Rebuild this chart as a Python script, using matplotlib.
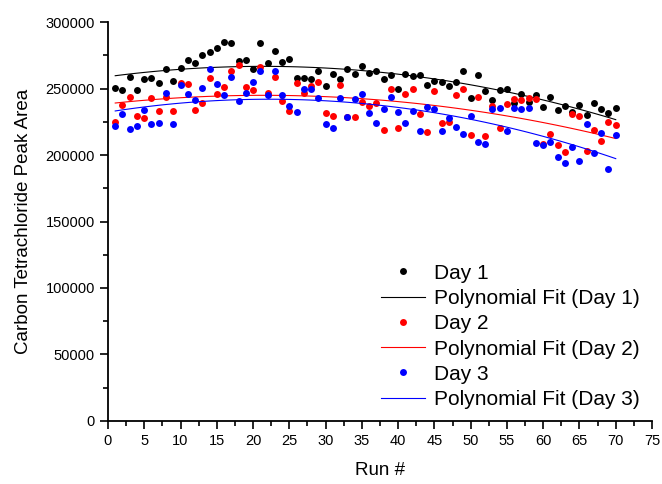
import numpy as np
import matplotlib
matplotlib.use("Agg")
from matplotlib import pyplot as plt
from matplotlib.ticker import MultipleLocator
from matplotlib.legend_handler import HandlerLine2D

plt.rcParams['font.family'] = ['Liberation Sans', 'DejaVu Sans']

runs = np.arange(1, 71)

#--------------data--------------------------------------
day1 = [250600, 249000, 259000, 249000, 257400, 258000, 254400, 264500, 256000, 265700,
        271700, 269200, 275200, 277500, 280300, 285200, 284500, 271000, 271200, 264500,
        284300, 269200, 278500, 269700, 272000, 258000, 258000, 257000, 263000, 252100,
        261000, 257400, 264500, 261000, 266700, 262000, 263200, 257000, 260000, 249500,
        261000, 259700, 260400, 252700, 256000, 254700, 252000, 255000, 263200, 242700,
        260200, 247900, 241400, 249100, 249700, 238900, 245700, 240100, 245200, 236400,
        243700, 234100, 236900, 232400, 237600, 229900, 238900, 234900, 231900, 235200]

day2 = [224600, 237400, 243600, 229400, 227600, 243100, 232900, 243600, 233400, 253900,
        253400, 233900, 239400, 257700, 246100, 251400, 263200, 267700, 251200, 248700,
        266200, 246400, 258900, 240400, 233100, 253900, 246700, 252100, 255200, 231600,
        229400, 252400, 228400, 228600, 239700, 236700, 239400, 218800, 249900, 220600,
        246100, 249700, 231100, 217300, 247900, 224300, 224800, 245200, 249400, 215300,
        243900, 214300, 236700, 220100, 238400, 242400, 241200, 242700, 241900, 208500,
        215800, 207600, 202500, 230700, 229100, 203000, 218600, 210600, 225100, 222800]

day3 = [222100, 231100, 219800, 222100, 233600, 223600, 224100, 246700, 223100, 252700,
        245900, 241200, 250400, 264500, 253700, 245400, 258500, 240900, 246400, 254700,
        263000, 245200, 263000, 245400, 237100, 232400, 249900, 249700, 243100, 223300,
        220600, 242700, 228400, 242400, 246100, 231400, 224300, 234600, 243400, 232400,
        223900, 233400, 217900, 235900, 234600, 217900, 227900, 221300, 215800, 229600,
        210000, 208500, 234400, 235100, 217900, 235400, 234900, 235600, 209300, 207800,
        209800, 198300, 194000, 205800, 195800, 223600, 201300, 216600, 189300, 215100]

labels = ["Day 1", "Day 2", "Day 3"]
colors = ["black", "red", "blue"]


# legend symbol sits at the left end of the handle, as in the original
class LeftDot(HandlerLine2D):
    def get_xdata(self, legend, xdescent, ydescent, width, height, fontsize):
        xdata, xm = super().get_xdata(legend, xdescent, ydescent, width, height, fontsize)
        return xdata, [-xdescent + 0.06 * width]


fig = plt.figure(figsize=(6.62, 4.84), dpi=100)
ax = fig.add_axes([0.1631, 0.1302, 0.8218, 0.8243])

dots = []
for data, lab, col in zip([day1, day2, day3], labels, colors):
    d, = ax.plot(runs, data, 'o', color=col, markersize=5, markeredgewidth=0, label=lab)
    dots.append(d)
    coef = np.polyfit(runs, data, 2)
    ax.plot(runs, np.polyval(coef, runs), '-', color=col, linewidth=0.8,
            label="Polynomial Fit (" + lab + ")")

ax.set_xlim(0, 75)
ax.set_ylim(0, 300000)
ax.xaxis.set_major_locator(MultipleLocator(5))
ax.xaxis.set_minor_locator(MultipleLocator(2.5))
ax.yaxis.set_major_locator(MultipleLocator(50000))
ax.yaxis.set_minor_locator(MultipleLocator(25000))
ax.tick_params(which='major', direction='out', length=6, width=1.2, labelsize=10.5)
ax.tick_params(which='minor', direction='out', length=3.5, width=1.2)
ax.spines['top'].set_visible(False)
ax.spines['right'].set_visible(False)
ax.spines['left'].set_linewidth(1.3)
ax.spines['bottom'].set_linewidth(1.3)

ax.set_xlabel("Run #", fontsize=13.5, labelpad=10)
ax.set_ylabel("Carbon Tetrachloride Peak Area", fontsize=13.5, labelpad=10)

ax.legend(loc='lower left', bbox_to_anchor=(0.502, 0.03), frameon=False, fontsize=15,
          handlelength=2.1, handletextpad=0.45, labelspacing=0.3,
          borderaxespad=0, borderpad=0,
          handler_map={d: LeftDot(numpoints=1) for d in dots})

plt.savefig("out.png", dpi=100)
